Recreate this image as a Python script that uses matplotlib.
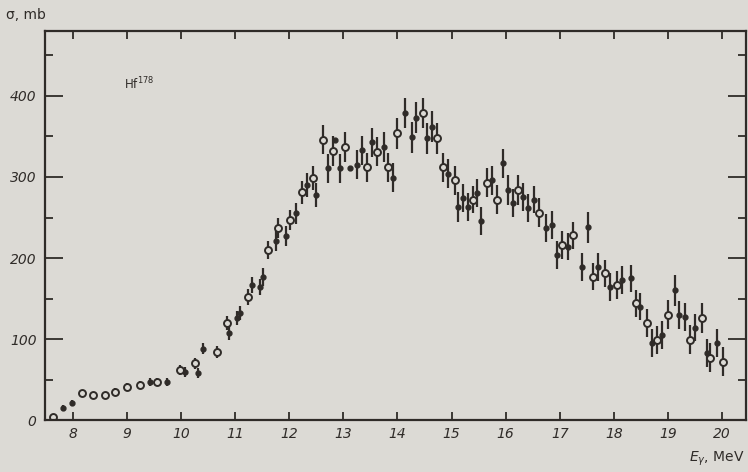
import numpy as np
import matplotlib.pyplot as plt
from matplotlib.ticker import MultipleLocator

# open circles: energy (MeV), cross section (mb), error (mb)
e_open = [7.63, 8.17, 8.37, 8.59, 8.78, 9.00, 9.24, 9.55, 9.98, 10.26,
          10.66, 10.85, 11.23, 11.60, 11.79, 12.01, 12.23, 12.44, 12.62, 12.80,
          13.03, 13.43, 13.63, 13.82, 14.00, 14.47, 14.73, 14.84, 15.06, 15.39,
          15.65, 15.84, 16.22, 16.61, 17.04, 17.24, 17.61, 17.83, 18.06, 18.41,
          18.61, 18.80, 19.00, 19.40, 19.63, 19.78, 20.01]
s_open = [4, 33, 31, 31, 35, 41, 43, 47, 62, 70,
          84, 120, 152, 210, 237, 247, 281, 299, 346, 332,
          337, 312, 331, 312, 354, 379, 348, 312, 296, 272,
          293, 272, 284, 256, 216, 228, 177, 181, 167, 144,
          120, 99, 130, 99, 126, 77, 72]
d_open = [3, 4, 4, 4, 4, 5, 5, 5, 6, 7,
          8, 9, 10, 11, 12, 12, 14, 15, 18, 18,
          18, 18, 18, 18, 19, 19, 19, 18, 18, 17,
          18, 18, 18, 18, 17, 17, 17, 17, 17, 17,
          17, 17, 18, 18, 18, 18, 18]

# filled dots
e_full = [7.82, 7.98, 9.42, 9.74, 10.07, 10.31, 10.40, 10.88, 11.03, 11.09,
          11.31, 11.46, 11.51, 11.75, 11.94, 12.12, 12.33, 12.50, 12.71, 12.84,
          12.93, 13.12, 13.25, 13.34, 13.53, 13.75, 13.91, 14.14, 14.27, 14.34,
          14.55, 14.63, 14.93, 15.12, 15.21, 15.30, 15.47, 15.54, 15.74, 15.95,
          16.04, 16.13, 16.32, 16.41, 16.52, 16.74, 16.85, 16.95, 17.15, 17.41,
          17.52, 17.70, 17.93, 18.15, 18.31, 18.48, 18.70, 18.89, 19.13, 19.20,
          19.31, 19.51, 19.72, 19.90]
s_full = [15, 21, 47, 47, 59, 58, 88, 107, 126, 132,
          167, 164, 177, 221, 227, 255, 290, 278, 311, 346,
          311, 311, 315, 333, 343, 337, 299, 379, 349, 373,
          348, 362, 304, 263, 274, 263, 280, 246, 296, 317,
          284, 268, 275, 262, 272, 237, 241, 204, 214, 189,
          238, 189, 164, 173, 175, 140, 95, 105, 160, 130,
          127, 114, 83, 95]
d_full = [3, 4, 5, 5, 6, 6, 7, 8, 9, 9,
          10, 10, 11, 12, 12, 13, 15, 15, 18, 0,
          18, 0, 18, 18, 18, 18, 18, 19, 19, 19,
          19, 19, 18, 18, 17, 17, 17, 17, 18, 18,
          18, 17, 17, 17, 17, 17, 17, 17, 17, 17,
          19, 17, 17, 17, 17, 17, 17, 17, 19, 17,
          17, 17, 17, 17]

x_ticks = [8, 9, 10, 11, 12, 13, 14, 15, 16, 17, 18, 19, 20]
y_ticks = [0, 100, 200, 300, 400]

bg = '#dcdad5'
ink = '#2f2b28'

fig = plt.figure(figsize=(7.48, 4.72), dpi=100, facecolor=bg)
ax = fig.add_axes([0.060, 0.110, 0.937, 0.824])
ax.set_facecolor(bg)

ax.errorbar(e_full, s_full, yerr=d_full, fmt='o', ms=3.5, color=ink,
            ecolor=ink, elinewidth=1.6, capsize=0)
ax.errorbar(e_open, s_open, yerr=d_open, fmt='o', ms=5, mfc=bg, mec=ink,
            mew=1.4, ecolor=ink, elinewidth=1.6, capsize=0)

ax.set_xlim(7.48, 20.44)
ax.set_ylim(0, 480)

for sp in ax.spines.values():
    sp.set_color(ink)
    sp.set_linewidth(1.6)

ax.set_xticks(x_ticks)
ax.set_xticklabels([str(v) for v in x_ticks], fontstyle='italic',
                   fontsize=10, color=ink)
ax.set_yticks(y_ticks)
ax.set_yticklabels([str(v) for v in y_ticks], fontstyle='italic',
                   fontsize=10, color=ink)
ax.yaxis.set_minor_locator(MultipleLocator(50))
ax.tick_params(axis='x', direction='in', length=6, width=1.3, colors=ink,
               top=True, pad=5)
ax.tick_params(axis='y', which='major', direction='in', length=13, width=1.3,
               colors=ink, right=True, pad=6)
ax.tick_params(axis='y', which='minor', direction='in', length=6, width=1.3,
               colors=ink, right=True)

fig.text(0.008, 0.982, 'σ, mb', fontsize=10, color=ink, va='top', ha='left')
ax.text(8.95, 415, 'Hf$^{178}$', fontsize=8.5, color=ink, ha='left', va='center')
fig.text(0.995, 0.008, '$E_\\gamma$, MeV', fontsize=10, color=ink,
         ha='right', va='bottom')

fig.savefig('out.png', dpi=100, facecolor=bg)
